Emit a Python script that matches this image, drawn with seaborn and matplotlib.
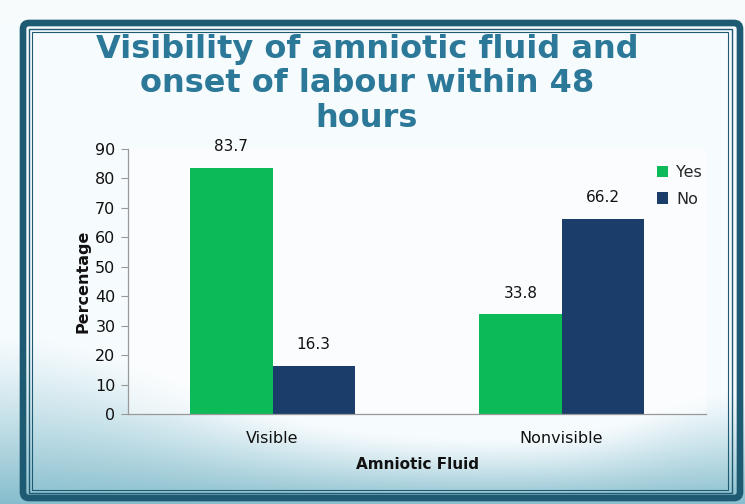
import numpy as np
import pandas as pd
import seaborn as sns
import matplotlib.pyplot as plt
from matplotlib.patches import FancyBboxPatch, Rectangle

# data
categories = ['Visible', 'Nonvisible']
groups = ['Yes', 'No']
yes_vals = [83.7, 33.8]
no_vals = [16.3, 66.2]

df = pd.DataFrame({
    'Amniotic Fluid': categories * 2,
    'Onset': ['Yes'] * 2 + ['No'] * 2,
    'Percentage': yes_vals + no_vals,
})

sns.set_theme(style='white')
plt.rcParams['font.family'] = ['DejaVu Sans']

fig = plt.figure(figsize=(7.45, 5.04), dpi=100)
W, H = 745, 504

# background with soft blue wave near the bottom
bg = fig.add_axes([0, 0, 1, 1], zorder=-2)
bg.set_axis_off()
yy, xx = np.mgrid[0:H, 0:W]
start = 440 - 105 * np.exp(-(xx / 230.0) ** 2) - 50 * np.exp(-((xx - 745) / 120.0) ** 2)
end = 505.0
t = np.clip((yy - start) / (end - start), 0, 1) ** 1.2
base = np.array([0.965, 0.985, 0.995])
low = np.array([0.52, 0.74, 0.80])
img = base[None, None, :] * (1 - t[..., None]) + low[None, None, :] * t[..., None]
img[yy < 20] = [0.97, 0.985, 0.99]
bg.imshow(img, extent=[0, W, H, 0], aspect='auto')
bg.set_xlim(0, W)
bg.set_ylim(H, 0)

frame_col = '#1f5a73'
bg.add_patch(FancyBboxPatch((23, 23), 717, 475, boxstyle='round,pad=0,rounding_size=6',
                            fill=False, ec=frame_col, lw=4.8))
bg.add_patch(Rectangle((29, 29), 703, 464, fill=False, ec=frame_col, lw=1.0))
bg.add_patch(Rectangle((32, 32), 696, 458, fill=False, ec=frame_col, lw=0.8))

ax = fig.add_axes([128 / W, 1 - 414 / H, (706 - 128) / W, (414 - 149) / H])
ax.set_facecolor((1, 1, 1, 0.45))

palette = {'Yes': '#0cbb58', 'No': '#1b3d6a'}
sns.barplot(data=df, x='Amniotic Fluid', y='Percentage', hue='Onset',
            hue_order=groups, order=categories, palette=palette,
            width=0.57, saturation=1, ax=ax, edgecolor='none')

for c in ax.containers:
    ax.bar_label(c, labels=[f'{v:.1f}' for v in c.datavalues], padding=10,
                 fontsize=11, color='#111111')

ax.set_ylim(0, 90)
ax.set_yticks(range(0, 91, 10))
ax.tick_params(axis='y', which='both', left=True, length=5, width=0.8,
               color='#999999', labelsize=11.5, pad=4, labelcolor='#111111')
ax.tick_params(axis='x', length=0, labelsize=11.5, pad=12, labelcolor='#111111')
for s in ['top', 'right']:
    ax.spines[s].set_visible(False)
for s in ['left', 'bottom']:
    ax.spines[s].set_color('#999999')
    ax.spines[s].set_linewidth(0.9)

ax.set_ylabel('Percentage', fontsize=11.5, fontweight='bold', labelpad=3, color='#111111')
ax.set_xlabel('Amniotic Fluid', fontsize=11, fontweight='bold', labelpad=8, color='#111111')

leg = ax.legend(title=None, frameon=False, loc='upper left',
                bbox_to_anchor=(0.89, 0.995), fontsize=11.5, handlelength=0.7,
                handleheight=0.7, handletextpad=0.5, labelspacing=0.75)

fig.text(367 / W, 1 - 84 / H, 'Visibility of amniotic fluid and\nonset of labour within 48\nhours',
         ha='center', va='center', fontsize=23, fontweight='bold', color='#2b7898',
         linespacing=1.16)

fig.savefig('out.png', dpi=100)
